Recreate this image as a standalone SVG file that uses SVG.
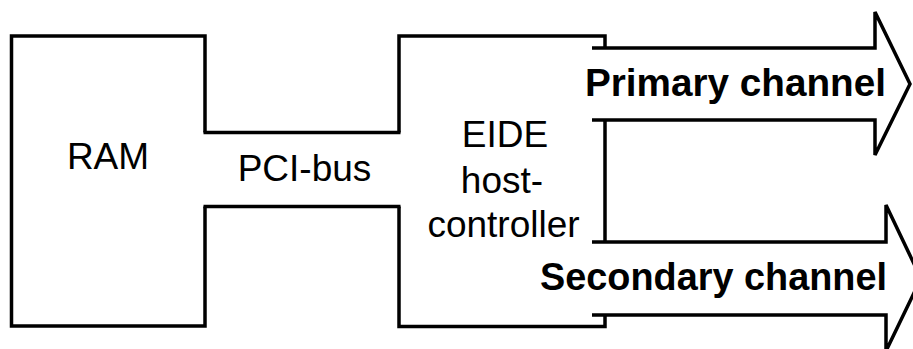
<svg xmlns="http://www.w3.org/2000/svg" width="913" height="349" viewBox="0 0 913 349">
<style>
.ln{fill:none;stroke:#000;stroke-width:3.5;stroke-linejoin:miter;stroke-linecap:butt}
.t{font-family:"Liberation Sans",Arial,sans-serif;font-size:37px;fill:#000;text-anchor:middle}
.b{font-family:"Liberation Sans",Arial,sans-serif;font-size:38.5px;font-weight:bold;fill:#000}
</style>
<rect width="913" height="349" fill="#fff"/>
<g id="ram">
<path class="ln" d="M205,132.5 V36 H11.5 V326 H205 V206.5"/>
<text class="t" x="108" y="169">RAM</text>
</g>
<g id="pci-bus">
<path class="ln" d="M203.5,132.5 H400.5 M203.5,206.5 H400.5"/>
<text class="t" x="304.5" y="181">PCI-bus</text>
</g>
<g id="eide">
<path class="ln" d="M399,132.5 V36 H605 V48 M605,120 V242 M605,314.5 V326.5 H399 V206.5"/>
<text class="t" x="505" y="147">EIDE</text>
<text class="t" x="502" y="193">host-</text>
<text class="t" x="503.5" y="237">controller</text>
</g>
<g id="connectors">
<path class="ln" d="M592,48 H875 V12 L910,84 L875,155 V120 H592"/>
<path class="ln" d="M592,242 H886 V205 L921,278.5 L886,351 V315 H592"/>
</g>
<g id="labels">
<text class="b" x="585" y="96" textLength="301" lengthAdjust="spacingAndGlyphs">Primary channel</text>
<text class="b" x="540" y="290" textLength="347" lengthAdjust="spacingAndGlyphs">Secondary channel</text>
</g>
</svg>
